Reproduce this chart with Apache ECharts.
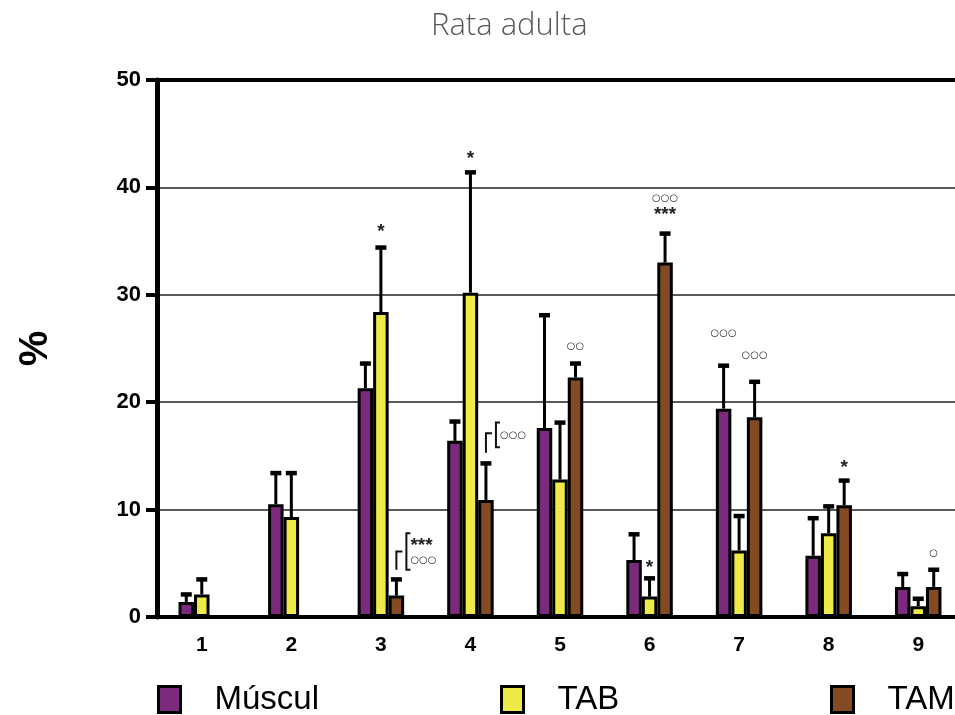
<!DOCTYPE html>
<html>
<head>
<meta charset="utf-8">
<script src="https://cdn.jsdelivr.net/npm/echarts@6/dist/echarts.min.js"></script>
<style>html,body{margin:0;padding:0;background:#fff;overflow:hidden;width:955px;height:715px;}#c{width:963px;height:715px;}</style>
</head>
<body>
<div id="c"></div>
<script>
// ---- data ----
const categories = ['1','2','3','4','5','6','7','8','9'];
const seriesNames = ['Múscul','TAB','TAM'];
const muscul    = [1.4, 10.5, 21.3, 16.4, 17.6, 5.3, 19.4, 5.7, 2.8];
const musculErr = [0.7, 2.9, 2.3, 1.8, 10.5, 2.4, 4.0, 3.5, 1.2];
const tab       = [2.1, 9.3, 28.4, 30.2, 12.8, 1.9, 6.2, 7.8, 1.0];
const tabErr    = [1.4, 4.1, 6.0, 11.2, 5.3, 1.7, 3.2, 2.5, 0.7];
const tam       = [null, null, 2.0, 10.9, 22.3, 33.0, 18.6, 10.4, 2.8];
const tamErr    = [null, null, 1.5, 3.4, 1.3, 2.7, 3.3, 2.3, 1.6];
const yTicks    = [0, 10, 20, 30, 40, 50];

// significance marks: category index, series index, y (data units), text
const annCat    = [2, 3, 5, 7, 4, 5, 5, 6, 6, 8];
const annSeries = [1, 1, 1, 2, 2, 2, 2, 0, 2, 2];
const annY      = [36.2, 43.0, 5.0, 14.3, 25.2, 39.0, 37.8, 26.4, 24.4, 5.9];
const annText   = ['*', '*', '*', '*', '○○', '○○○', '***', '○○○', '○○○', '○'];

// bracket comparisons (on TAM bar): category, line start, corner, bracket low, bracket high
const brCat     = [2, 3];
const brStart   = [4.4, 15.3];
const brCorner  = [6.1, 17.1];
const brLow     = [4.4, 15.8];
const brHigh    = [7.8, 18.1];
const brTexts   = [['***', '○○○'], ['○○○']];
const brTextY   = [[7.0, 5.3], [16.9]];

// ---- styles ----
const colors = ['#7b2a7e', '#eeea48', '#844a22'];
const BW = 15.5;           // bar width px
const offsets = [-BW, 0, BW];
const FONT = 'Liberation Sans, Arial, sans-serif';

function errData(vals, errs) {
  return vals.map((v, i) => (v == null ? [i, null, null] : [i, v, errs[i]]));
}
function errRender(si) {
  return function (params, api) {
    const v = api.value(1);
    if (v == null || isNaN(v)) return null;
    const x = api.value(0), e = api.value(2);
    const b = api.coord([x, v]);
    const t = api.coord([x, v + e]);
    const cx = b[0] + offsets[si];
    return {
      type: 'group',
      children: [
        { type: 'line', shape: { x1: cx, y1: b[1], x2: cx, y2: t[1] }, style: { stroke: '#000', lineWidth: 3 } },
        { type: 'line', shape: { x1: cx - 5.5, y1: t[1], x2: cx + 5.5, y2: t[1] }, style: { stroke: '#000', lineWidth: 4.5 } }
      ]
    };
  };
}
function isCirc(t) { return t.indexOf('○') >= 0; }
function markFont(t) { return isCirc(t) ? '10px DejaVu Sans' : 'bold 19px ' + FONT; }
function textShift(t) { return isCirc(t) ? 0 : 4; }

const barSeries = [muscul, tab, tam].map((d, si) => ({
  name: seriesNames[si],
  type: 'bar',
  data: d,
  barWidth: BW,
  barGap: '0%',
  itemStyle: { color: colors[si], borderColor: '#000', borderWidth: 3 },
  z: 2,
  silent: true
}));
const errSeries = [[muscul, musculErr], [tab, tabErr], [tam, tamErr]].map((p, si) => ({
  type: 'custom',
  name: 'err' + si,
  data: errData(p[0], p[1]),
  encode: { x: 0, y: 1 },
  renderItem: errRender(si),
  z: 3,
  silent: true
}));
const annSeriesObj = {
  type: 'custom',
  name: 'ann',
  data: annCat.map((c, i) => [c, annY[i]]),
  encode: { x: 0, y: 1 },
  renderItem: function (params, api) {
    const i = params.dataIndex;
    const p = api.coord([api.value(0), api.value(1)]);
    const txt = annText[i];
    return {
      type: 'text',
      style: {
        x: p[0] + offsets[annSeries[i]], y: p[1] + textShift(txt),
        text: txt, align: 'center', verticalAlign: 'middle',
        fill: '#222', font: markFont(txt)
      }
    };
  },
  z: 4, silent: true
};
const brSeriesObj = {
  type: 'custom',
  name: 'br',
  data: brCat.map((c, i) => [c, brStart[i]]),
  encode: { x: 0, y: 1 },
  renderItem: function (params, api) {
    const i = params.dataIndex;
    const c = api.value(0);
    const x0 = api.coord([c, 0])[0] + offsets[2];
    const yS = api.coord([c, brStart[i]])[1];
    const yC = api.coord([c, brCorner[i]])[1];
    const yL = api.coord([c, brLow[i]])[1];
    const yH = api.coord([c, brHigh[i]])[1];
    const xb = x0 + 10;
    const st = { stroke: '#111', lineWidth: 2, fill: null };
    const children = [
      { type: 'polyline', shape: { points: [[x0, yS], [x0, yC], [x0 + 6, yC]] }, style: st },
      { type: 'polyline', shape: { points: [[xb + 4, yH], [xb, yH], [xb, yL], [xb + 4, yL]] }, style: st }
    ];
    brTexts[i].forEach((t, k) => {
      const ty = api.coord([c, brTextY[i][k]])[1];
      children.push({
        type: 'text',
        style: {
          x: xb + 4, y: ty + textShift(t), text: t, align: 'left', verticalAlign: 'middle',
          fill: '#222', font: markFont(t)
        }
      });
    });
    return { type: 'group', children: children };
  },
  z: 4, silent: true
};

function legendFor(name, left) {
  return {
    data: [name], left: left, top: 683, padding: 0,
    itemWidth: 22, itemHeight: 26, selectedMode: false,
    icon: 'rect',
    itemStyle: { borderColor: '#000', borderWidth: 3 },
    textStyle: { fontFamily: FONT, fontSize: 33, color: '#000', padding: [0, 0, 0, 29] }
  };
}

const chart = echarts.init(document.getElementById('c'), null, { renderer: 'canvas' });
chart.setOption({
  animation: false,
  backgroundColor: '#fff',
  title: {
    text: 'Rata adulta', left: 426, top: 6,
    textStyle: { fontFamily: 'Open Sans', fontWeight: 300, fontSize: 31, color: '#5a5a5a' }
  },
  legend: [legendFor('Múscul', 157), legendFor('TAB', 500), legendFor('TAM', 830)],
  grid: { left: 157, top: 80, width: 806, height: 537, containLabel: false },
  xAxis: [{
    type: 'category', data: categories,
    axisLine: { lineStyle: { color: '#000', width: 4 } },
    axisTick: { alignWithLabel: true, length: 12, lineStyle: { color: '#000', width: 4 } },
    axisLabel: { fontFamily: FONT, fontWeight: 'bold', fontSize: 21, color: '#000', margin: 18 },
    splitLine: { show: false }
  }, {
    type: 'category', data: categories, position: 'top',
    axisLine: { lineStyle: { color: '#000', width: 4 } },
    axisTick: { show: false }, axisLabel: { show: false }, splitLine: { show: false }
  }],
  yAxis: {
    type: 'value', min: yTicks[0], max: yTicks[yTicks.length - 1], interval: 10,
    name: '%', nameLocation: 'middle', nameGap: 101, nameRotate: 90,
    nameTextStyle: { fontFamily: FONT, fontWeight: 'bold', fontSize: 40, color: '#000' },
    axisLine: { show: true, lineStyle: { color: '#000', width: 5 } },
    axisTick: { show: true, length: 11, lineStyle: { color: '#000', width: 4 } },
    axisLabel: { fontFamily: FONT, fontWeight: 'bold', fontSize: 22, color: '#000', margin: 16 },
    splitLine: { show: true, lineStyle: { color: '#222', width: 1.5 } }
  },
  series: barSeries.concat(errSeries, [annSeriesObj, brSeriesObj])
});
</script>
</body>
</html>
